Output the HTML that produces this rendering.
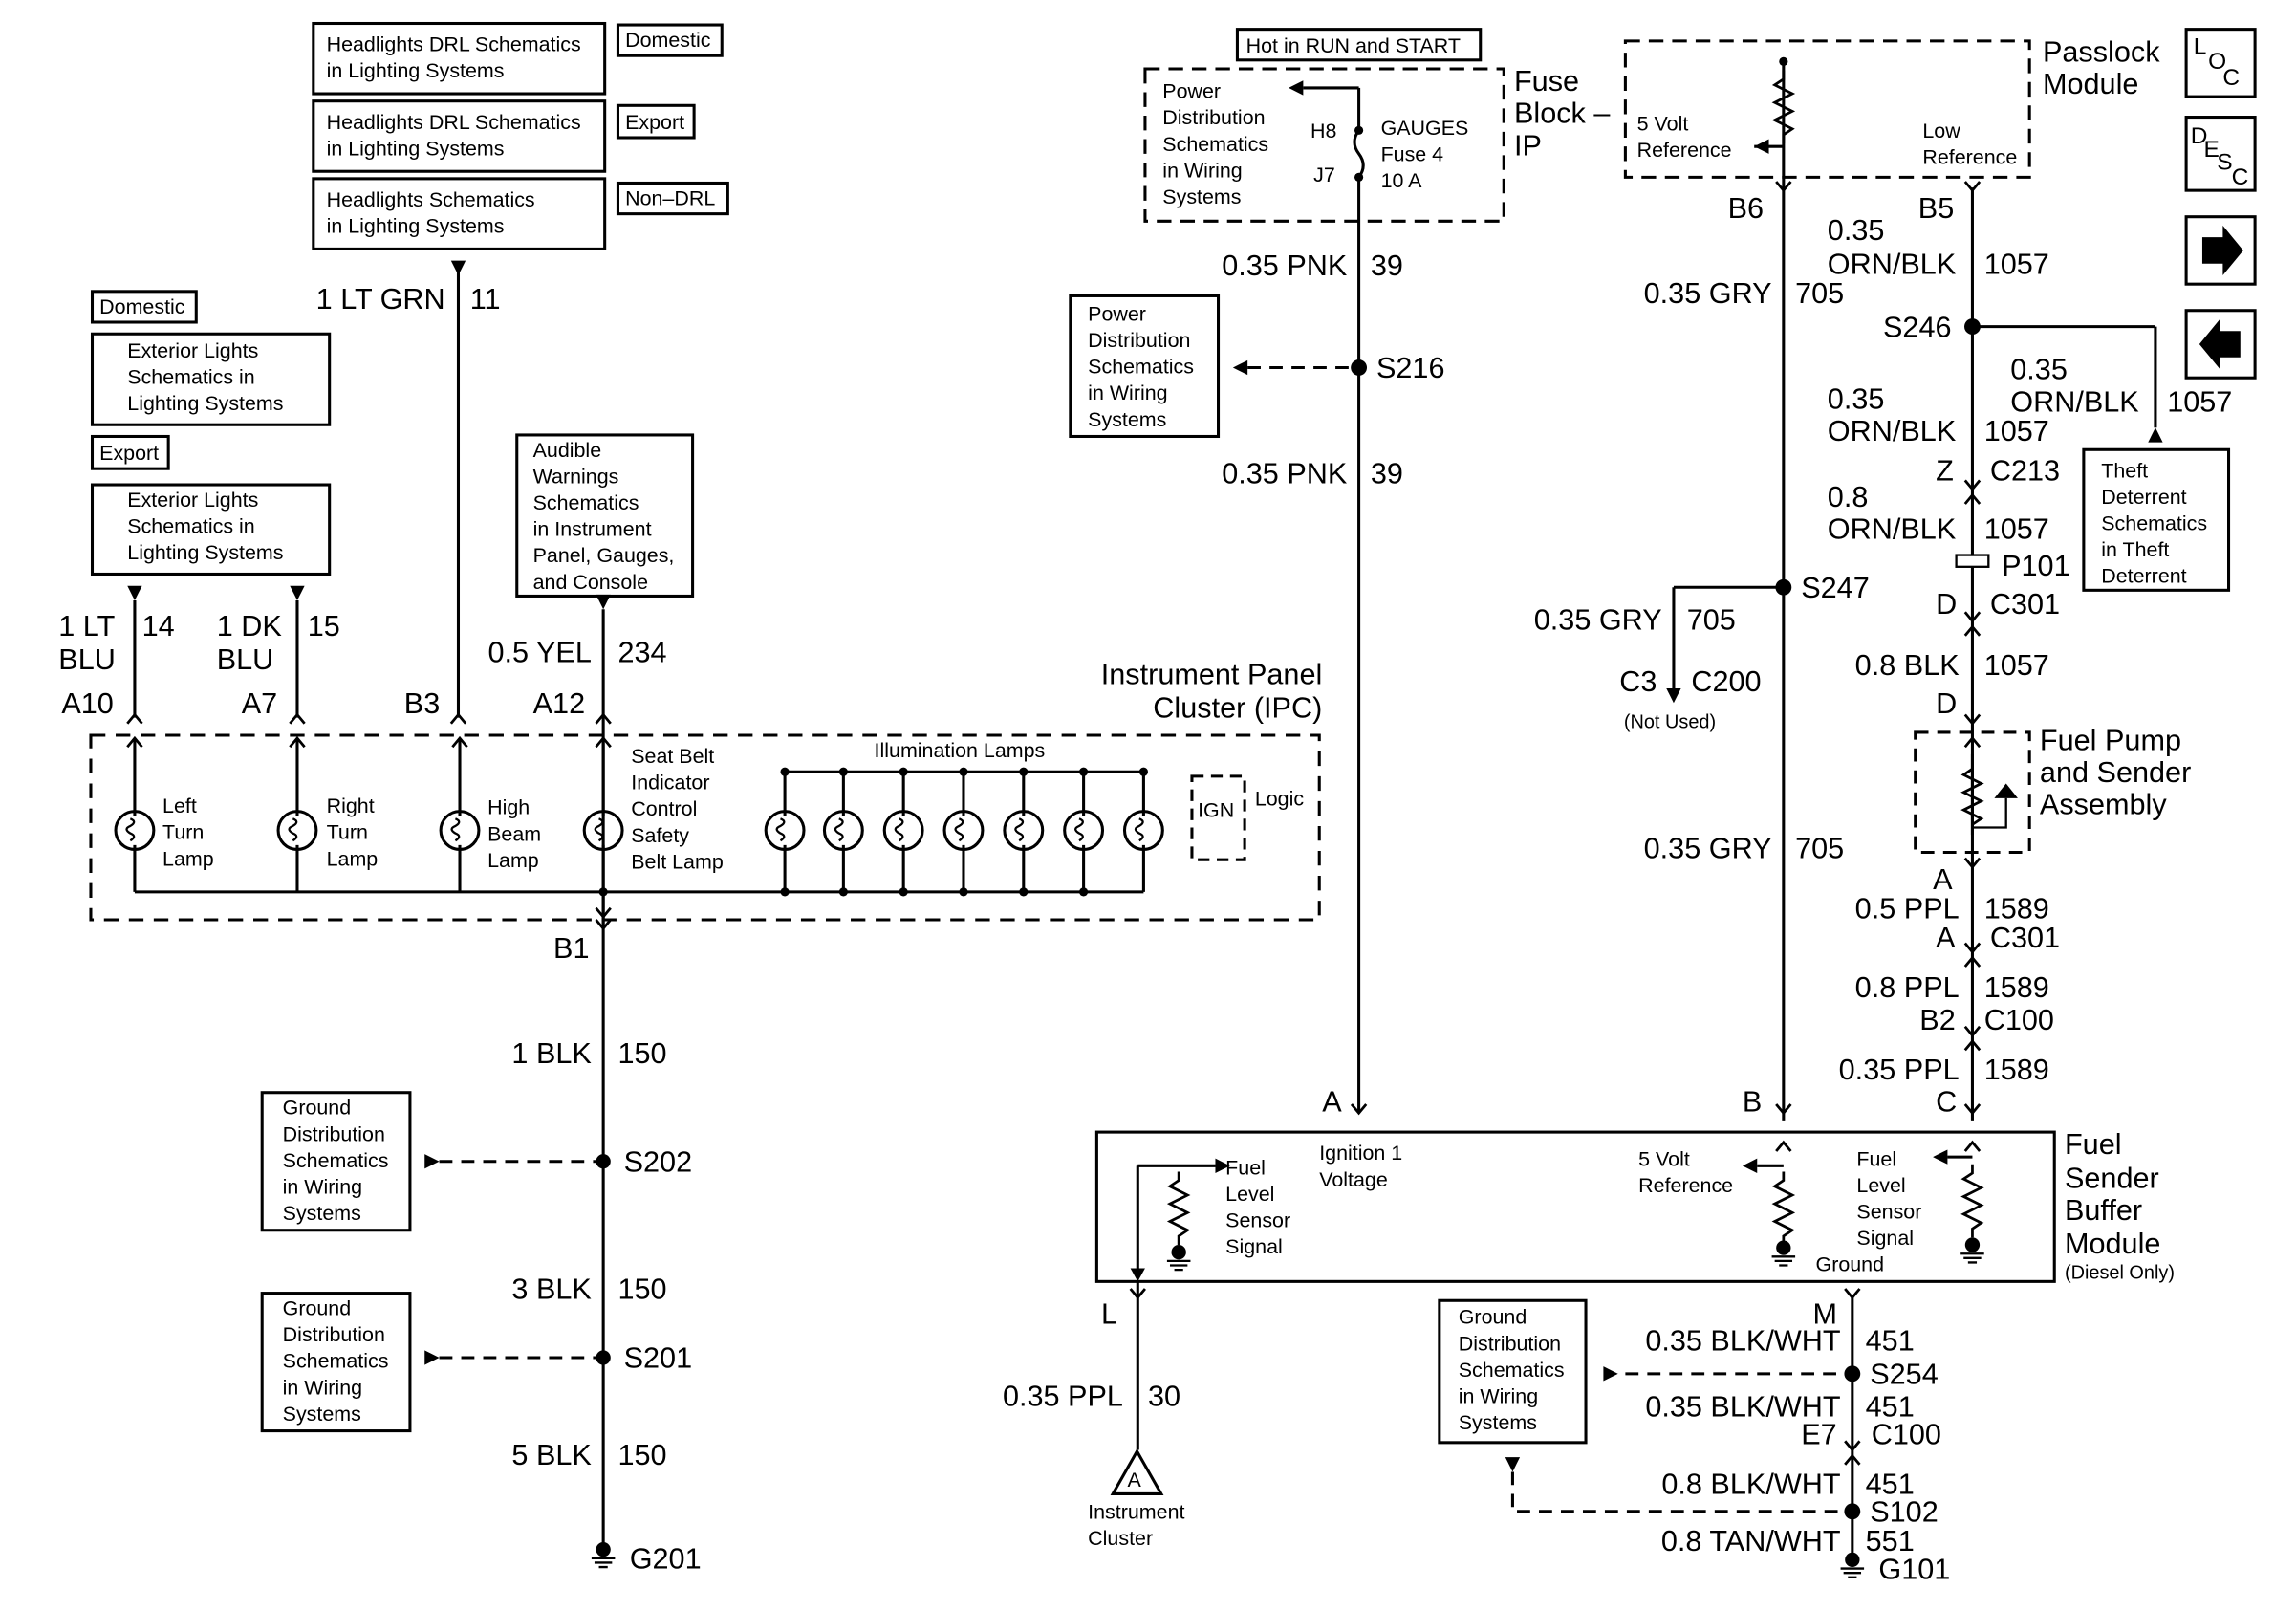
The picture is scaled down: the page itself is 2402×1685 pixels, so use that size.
<!DOCTYPE html>
<html><head><meta charset="utf-8"><style>
html,body{margin:0;padding:0;background:#fff;}
svg{display:block}
text{font-family:"Liberation Sans",Arial,sans-serif;fill:#000}
.s{font-size:14px}
.b{font-size:20px}
.t{font-size:13px}
</style></head><body>
<svg width="2402" height="1685" viewBox="0 0 1568 1100" preserveAspectRatio="none" xmlns="http://www.w3.org/2000/svg">
<defs>
<g id="lamp"><circle r="13" fill="none" stroke="#000" stroke-width="2"/><path d="M-3,-8 q5,2 0,5 q-5,2 0,5 q5,2 0,5" fill="none" stroke="#000" stroke-width="1.5"/><path d="M0,-13 v3 M0,13 v-3" stroke="#000" stroke-width="2"/></g>
<g id="chev"><polyline points="-5,4 0,-2 5,4" fill="none" stroke="#000" stroke-width="1.8"/></g>
<g id="chevd"><polyline points="-5,-4 0,2 5,-4" fill="none" stroke="#000" stroke-width="1.8"/></g>
<g id="gnd"><circle r="5" fill="#000"/><path d="M-8,6 h16 M-6,9 h12 M-3,12 h6" stroke="#000" stroke-width="1.5"/></g>
<g id="res"><polyline points="0,0 0,6 -6,10 6,16 -6,22 6,28 -6,34 6,40 0,44 0,50" fill="none" stroke="#000" stroke-width="1.8"/></g>
</defs>
<g stroke="#000" stroke-width="2" fill="none">
<rect x="214" y="16" width="199" height="48"/><rect x="422" y="17" width="71" height="21"/>
<rect x="214" y="69" width="199" height="48"/><rect x="422" y="72" width="52" height="22"/>
<rect x="214" y="122" width="199" height="48"/><rect x="422" y="125" width="75" height="21"/>
<rect x="63" y="199" width="71" height="21"/><rect x="63" y="228" width="162" height="62"/>
<rect x="63" y="298" width="52" height="22"/><rect x="63" y="331" width="162" height="61"/>
<rect x="353" y="297" width="120" height="110"/>
<line x1="313" y1="180" x2="313" y2="490"/>
<line x1="92" y1="410" x2="92" y2="490"/>
<line x1="203" y1="410" x2="203" y2="490"/>
<line x1="412" y1="416" x2="412" y2="1055"/>
<rect x="62" y="502" width="839" height="126" stroke-dasharray="10,7"/>
<line x1="92" y1="505" x2="92" y2="554"/><line x1="92" y1="580" x2="92" y2="609"/>
<line x1="203" y1="505" x2="203" y2="554"/><line x1="203" y1="580" x2="203" y2="609"/>
<line x1="314" y1="505" x2="314" y2="554"/><line x1="314" y1="580" x2="314" y2="609"/>
<line x1="412" y1="505" x2="412" y2="554"/><line x1="412" y1="580" x2="412" y2="632"/>
<line x1="92" y1="609" x2="781" y2="609"/>
<line x1="536" y1="527" x2="781" y2="527"/>
<line x1="536" y1="527" x2="536" y2="554"/><line x1="536" y1="580" x2="536" y2="609"/>
<line x1="576" y1="527" x2="576" y2="554"/><line x1="576" y1="580" x2="576" y2="609"/>
<line x1="617" y1="527" x2="617" y2="554"/><line x1="617" y1="580" x2="617" y2="609"/>
<line x1="658" y1="527" x2="658" y2="554"/><line x1="658" y1="580" x2="658" y2="609"/>
<line x1="699" y1="527" x2="699" y2="554"/><line x1="699" y1="580" x2="699" y2="609"/>
<line x1="740" y1="527" x2="740" y2="554"/><line x1="740" y1="580" x2="740" y2="609"/>
<line x1="781" y1="527" x2="781" y2="554"/><line x1="781" y1="580" x2="781" y2="609"/>
<rect x="814" y="530" width="36" height="57" stroke-dasharray="8,5"/>
<rect x="179" y="746" width="101" height="94"/><rect x="179" y="883" width="101" height="94"/>
<line x1="300" y1="793" x2="412" y2="793" stroke-dasharray="9,6"/>
<line x1="300" y1="927" x2="412" y2="927" stroke-dasharray="9,6"/>
<rect x="845" y="20" width="166" height="21"/>
<rect x="782" y="47" width="245" height="104" stroke-dasharray="10,6"/>
<line x1="928" y1="60" x2="890" y2="60"/>
<line x1="928" y1="60" x2="928" y2="89"/>
<path d="M928,89 q-6,8 0,16 q6,8 0,16"/>
<line x1="928" y1="121" x2="928" y2="760"/>
<rect x="731" y="202" width="101" height="96"/>
<line x1="852" y1="251" x2="928" y2="251" stroke-dasharray="9,6"/>
<rect x="749" y="773" width="654" height="102"/>
<line x1="777" y1="796" x2="777" y2="868"/>
<line x1="777" y1="796" x2="830" y2="796"/>
<line x1="777" y1="875" x2="777" y2="990"/>
<polygon points="760,1020 793,1020 776.5,991" />
<rect x="1110" y="28" width="276" height="93" stroke-dasharray="10,6"/>
<line x1="1218" y1="42" x2="1218" y2="765"/>
<line x1="1347" y1="128" x2="1347" y2="765"/>
<line x1="1347" y1="223" x2="1472" y2="223"/><line x1="1472" y1="223" x2="1472" y2="292"/>
<rect x="1423" y="307" width="99" height="96"/>
<line x1="1218" y1="401" x2="1143" y2="401"/><line x1="1143" y1="401" x2="1143" y2="475"/>
<rect x="1308" y="500" width="78" height="82" stroke-dasharray="9,6"/>
<line x1="1265" y1="885" x2="1265" y2="1062"/>
<rect x="983" y="888" width="100" height="97"/>
<line x1="1110" y1="938" x2="1265" y2="938" stroke-dasharray="9,6"/>
<polyline points="1033,1005 1033,1032 1265,1032" stroke-dasharray="9,6"/>
<rect x="1493" y="20" width="47" height="46"/><rect x="1493" y="80" width="47" height="50"/>
<rect x="1493" y="148" width="47" height="46"/><rect x="1493" y="212" width="47" height="46"/>
<line x1="1218" y1="100" x2="1198" y2="100"/>
<line x1="1218" y1="796" x2="1200" y2="796"/>
<line x1="1347" y1="790" x2="1330" y2="790"/>
<line x1="1347" y1="515" x2="1347" y2="570"/>
</g>
<g fill="#000">
<polygon points="308,178 318,178 313,188"/>
<polygon points="87,400 97,400 92,410"/><polygon points="198,400 208,400 203,410"/>
<polygon points="407,406 417,406 412,416"/>
<polygon points="290,788 290,798 300,793"/><polygon points="290,922 290,932 300,927"/>
<polygon points="890,55 890,65 880,60"/>
<polygon points="852,246 852,256 842,251"/>
<polygon points="1467,302 1477,302 1472,292"/>
<polygon points="1095,933 1095,943 1105,938"/>
<polygon points="1028,995 1038,995 1033,1005"/>
<polygon points="1208,95 1208,105 1198,100"/>
<polygon points="1200,791 1200,801 1190,796"/>
<polygon points="1330,785 1330,795 1320,790"/>
<polygon points="830,791 830,801 840,796"/>
<polygon points="772,866 782,866 777,875"/>
<polygon points="1138,470 1148,470 1143,480"/>
<polygon points="1504,162 1518,162 1518,154 1532,171 1518,188 1518,180 1504,180"/>
<polygon points="1530,226 1516,226 1516,218 1502,235 1516,252 1516,244 1530,244"/>
<circle cx="412" cy="793" r="5"/><circle cx="412" cy="927" r="5"/>
<circle cx="928" cy="251" r="5.5"/><circle cx="1347" cy="223" r="5.5"/>
<circle cx="1218" cy="401" r="5.5"/><circle cx="1265" cy="938" r="5.5"/><circle cx="1265" cy="1032" r="5.5"/>
<circle cx="928" cy="89" r="3"/><circle cx="928" cy="121" r="3"/><circle cx="1218" cy="42" r="3"/>
</g>
<use href="#lamp" x="92" y="567"/><use href="#lamp" x="203" y="567"/><use href="#lamp" x="314" y="567"/><use href="#lamp" x="412" y="567"/>
<use href="#lamp" x="536" y="567"/><use href="#lamp" x="576" y="567"/><use href="#lamp" x="617" y="567"/><use href="#lamp" x="658" y="567"/>
<use href="#lamp" x="699" y="567"/><use href="#lamp" x="740" y="567"/><use href="#lamp" x="781" y="567"/>
<g fill="#000"><circle cx="536" cy="527" r="3"/><circle cx="576" cy="527" r="3"/><circle cx="617" cy="527" r="3"/><circle cx="658" cy="527" r="3"/><circle cx="699" cy="527" r="3"/><circle cx="740" cy="527" r="3"/><circle cx="781" cy="527" r="3"/>
<circle cx="536" cy="609" r="3"/><circle cx="576" cy="609" r="3"/><circle cx="617" cy="609" r="3"/><circle cx="658" cy="609" r="3"/><circle cx="699" cy="609" r="3"/><circle cx="740" cy="609" r="3"/><circle cx="412" cy="609" r="3"/></g>
<use href="#chev" x="92" y="490"/><use href="#chev" x="92" y="506"/>
<use href="#chev" x="203" y="490"/><use href="#chev" x="203" y="506"/>
<use href="#chev" x="313" y="490"/><use href="#chev" x="314" y="506"/>
<use href="#chev" x="412" y="490"/><use href="#chev" x="412" y="506"/>
<use href="#chevd" x="412" y="624"/><use href="#chevd" x="412" y="632"/>
<use href="#chevd" x="928" y="758"/><use href="#chevd" x="1218" y="758"/><use href="#chevd" x="1347" y="758"/>
<use href="#chev" x="1218" y="782"/><use href="#chev" x="1347" y="782"/>
<use href="#chevd" x="1218" y="128"/><use href="#chevd" x="1347" y="128"/>
<use href="#chevd" x="1347" y="332"/><use href="#chev" x="1347" y="340"/>
<use href="#chevd" x="1347" y="422"/><use href="#chev" x="1347" y="430"/>
<use href="#chevd" x="1347" y="492"/><use href="#chev" x="1347" y="506"/>
<use href="#chevd" x="1347" y="590"/><use href="#chevd" x="1347" y="648"/><use href="#chev" x="1347" y="656"/>
<use href="#chevd" x="1347" y="705"/><use href="#chev" x="1347" y="713"/>
<use href="#chevd" x="777" y="884"/><use href="#chevd" x="1265" y="884"/>
<use href="#chevd" x="1265" y="988"/><use href="#chev" x="1265" y="996"/>
<rect x="1336" y="379" width="22" height="8" fill="#fff" stroke="#000" stroke-width="1.5"/>
<use href="#res" x="1218" y="48"/>
<use href="#res" x="805" y="800"/><use href="#gnd" x="805" y="855"/>
<use href="#res" x="1218" y="800"/><use href="#gnd" x="1218" y="852"/>
<use href="#res" x="1347" y="795"/><use href="#gnd" x="1347" y="850"/>
<use href="#gnd" x="412" y="1058"/><use href="#gnd" x="1265" y="1065"/>
<polyline points="1347,520 1347,525 1341,529 1353,535 1341,541 1353,547 1341,553 1353,559 1347,563" fill="none" stroke="#000" stroke-width="1.8"/>
<polyline points="1370,545 1370,565 1347,565" fill="none" stroke="#000" stroke-width="1.5"/>
<polygon points="1362,545 1378,545 1370,535" fill="#000"/>
<g class="s">
<text x="223" y="35">Headlights DRL Schematics</text><text x="223" y="53">in Lighting Systems</text>
<text x="223" y="88">Headlights DRL Schematics</text><text x="223" y="106">in Lighting Systems</text>
<text x="223" y="141">Headlights Schematics</text><text x="223" y="159">in Lighting Systems</text>
<text x="427" y="32">Domestic</text><text x="427" y="88">Export</text><text x="427" y="140">Non–DRL</text>
<text x="68" y="214">Domestic</text><text x="68" y="314">Export</text>
<text x="87" y="244">Exterior Lights</text><text x="87" y="262">Schematics in</text><text x="87" y="280">Lighting Systems</text>
<text x="87" y="346">Exterior Lights</text><text x="87" y="364">Schematics in</text><text x="87" y="382">Lighting Systems</text>
<text x="364" y="312">Audible</text><text x="364" y="330">Warnings</text><text x="364" y="348">Schematics</text><text x="364" y="366">in Instrument</text><text x="364" y="384">Panel, Gauges,</text><text x="364" y="402">and Console</text>
<text x="111" y="555">Left</text><text x="111" y="573">Turn</text><text x="111" y="591">Lamp</text>
<text x="223" y="555">Right</text><text x="223" y="573">Turn</text><text x="223" y="591">Lamp</text>
<text x="333" y="556">High</text><text x="333" y="574">Beam</text><text x="333" y="592">Lamp</text>
<text x="431" y="521">Seat Belt</text><text x="431" y="539">Indicator</text><text x="431" y="557">Control</text><text x="431" y="575">Safety</text><text x="431" y="593">Belt Lamp</text>
<text x="597" y="517">Illumination Lamps</text>
<text x="818" y="558">IGN</text><text x="857" y="550">Logic</text>
<text x="193" y="761">Ground</text><text x="193" y="779">Distribution</text><text x="193" y="797">Schematics</text><text x="193" y="815">in Wiring</text><text x="193" y="833">Systems</text>
<text x="193" y="898">Ground</text><text x="193" y="916">Distribution</text><text x="193" y="934">Schematics</text><text x="193" y="952">in Wiring</text><text x="193" y="970">Systems</text>
<text x="851" y="36">Hot in RUN and START</text>
<text x="794" y="67">Power</text><text x="794" y="85">Distribution</text><text x="794" y="103">Schematics</text><text x="794" y="121">in Wiring</text><text x="794" y="139">Systems</text>
<text x="895" y="94">H8</text><text x="897" y="124">J7</text>
<text x="943" y="92">GAUGES</text><text x="943" y="110">Fuse 4</text><text x="943" y="128">10 A</text>
<text x="743" y="219">Power</text><text x="743" y="237">Distribution</text><text x="743" y="255">Schematics</text><text x="743" y="273">in Wiring</text><text x="743" y="291">Systems</text>
<text x="1118" y="89">5 Volt</text><text x="1118" y="107">Reference</text>
<text x="1313" y="94">Low</text><text x="1313" y="112">Reference</text>
<text x="1435" y="326">Theft</text><text x="1435" y="344">Deterrent</text><text x="1435" y="362">Schematics</text><text x="1435" y="380">in Theft</text><text x="1435" y="398">Deterrent</text>
<text x="837" y="802">Fuel</text><text x="837" y="820">Level</text><text x="837" y="838">Sensor</text><text x="837" y="856">Signal</text>
<text x="901" y="792">Ignition 1</text><text x="901" y="810">Voltage</text>
<text x="1119" y="796">5 Volt</text><text x="1119" y="814">Reference</text>
<text x="1268" y="796">Fuel</text><text x="1268" y="814">Level</text><text x="1268" y="832">Sensor</text><text x="1268" y="850">Signal</text>
<text x="1240" y="868">Ground</text>
<text x="743" y="1037">Instrument</text><text x="743" y="1055">Cluster</text>
<text x="996" y="904">Ground</text><text x="996" y="922">Distribution</text><text x="996" y="940">Schematics</text><text x="996" y="958">in Wiring</text><text x="996" y="976">Systems</text>
<text x="770" y="1015">A</text>
</g>
<g class="t"><text x="1109" y="497">(Not Used)</text><text x="1410" y="873">(Diesel Only)</text></g>
<g class="b">
<text x="304" y="211" text-anchor="end">1 LT GRN</text><text x="321" y="211">11</text>
<text x="40" y="434">1 LT</text><text x="40" y="457">BLU</text><text x="97" y="434">14</text>
<text x="148" y="434">1 DK</text><text x="148" y="457">BLU</text><text x="210" y="434">15</text>
<text x="404" y="452" text-anchor="end">0.5 YEL</text><text x="422" y="452">234</text>
<text x="42" y="487">A10</text><text x="165" y="487">A7</text><text x="276" y="487">B3</text><text x="364" y="487">A12</text>
<text x="903" y="467" text-anchor="end">Instrument Panel</text><text x="903" y="490" text-anchor="end">Cluster (IPC)</text>
<text x="378" y="654">B1</text>
<text x="404" y="726" text-anchor="end">1 BLK</text><text x="422" y="726">150</text>
<text x="426" y="800">S202</text><text x="426" y="934">S201</text>
<text x="404" y="887" text-anchor="end">3 BLK</text><text x="422" y="887">150</text>
<text x="404" y="1000" text-anchor="end">5 BLK</text><text x="422" y="1000">150</text>
<text x="430" y="1071">G201</text>
<text x="1034" y="62">Fuse</text><text x="1034" y="84">Block –</text><text x="1034" y="106">IP</text>
<text x="920" y="188" text-anchor="end">0.35 PNK</text><text x="936" y="188">39</text>
<text x="940" y="258">S216</text>
<text x="920" y="330" text-anchor="end">0.35 PNK</text><text x="936" y="330">39</text>
<text x="903" y="759">A</text><text x="1190" y="759">B</text><text x="1322" y="759">C</text>
<text x="1410" y="788">Fuel</text><text x="1410" y="811">Sender</text><text x="1410" y="833">Buffer</text><text x="1410" y="856">Module</text>
<text x="752" y="904">L</text>
<text x="767" y="960" text-anchor="end">0.35 PPL</text><text x="784" y="960">30</text>
<text x="1395" y="42">Passlock</text><text x="1395" y="64">Module</text>
<text x="1180" y="149">B6</text><text x="1310" y="149">B5</text>
<text x="1210" y="207" text-anchor="end">0.35 GRY</text><text x="1226" y="207">705</text>
<text x="1248" y="164">0.35</text><text x="1248" y="187">ORN/BLK</text><text x="1355" y="187">1057</text>
<text x="1286" y="230">S246</text>
<text x="1373" y="259">0.35</text><text x="1373" y="281">ORN/BLK</text><text x="1480" y="281">1057</text>
<text x="1248" y="279">0.35</text><text x="1248" y="301">ORN/BLK</text><text x="1355" y="301">1057</text>
<text x="1322" y="328">Z</text><text x="1359" y="328">C213</text>
<text x="1248" y="346">0.8</text><text x="1248" y="368">ORN/BLK</text><text x="1355" y="368">1057</text>
<text x="1367" y="393">P101</text>
<text x="1322" y="419">D</text><text x="1359" y="419">C301</text>
<text x="1230" y="408">S247</text>
<text x="1135" y="430" text-anchor="end">0.35 GRY</text><text x="1152" y="430">705</text>
<text x="1106" y="472">C3</text><text x="1155" y="472">C200</text>
<text x="1338" y="461" text-anchor="end">0.8 BLK</text><text x="1355" y="461">1057</text>
<text x="1322" y="487">D</text>
<text x="1393" y="512">Fuel Pump</text><text x="1393" y="534">and Sender</text><text x="1393" y="556">Assembly</text>
<text x="1210" y="586" text-anchor="end">0.35 GRY</text><text x="1226" y="586">705</text>
<text x="1320" y="607">A</text>
<text x="1338" y="627" text-anchor="end">0.5 PPL</text><text x="1355" y="627">1589</text>
<text x="1322" y="647">A</text><text x="1359" y="647">C301</text>
<text x="1338" y="681" text-anchor="end">0.8 PPL</text><text x="1355" y="681">1589</text>
<text x="1311" y="703">B2</text><text x="1355" y="703">C100</text>
<text x="1338" y="737" text-anchor="end">0.35 PPL</text><text x="1355" y="737">1589</text>
<text x="1238" y="904">M</text>
<text x="1257" y="922" text-anchor="end">0.35 BLK/WHT</text><text x="1274" y="922">451</text>
<text x="1277" y="945">S254</text>
<text x="1257" y="967" text-anchor="end">0.35 BLK/WHT</text><text x="1274" y="967">451</text>
<text x="1230" y="986">E7</text><text x="1278" y="986">C100</text>
<text x="1257" y="1020" text-anchor="end">0.8 BLK/WHT</text><text x="1274" y="1020">451</text>
<text x="1277" y="1039">S102</text>
<text x="1257" y="1059" text-anchor="end">0.8 TAN/WHT</text><text x="1274" y="1059">551</text>
<text x="1283" y="1078">G101</text>
</g>
<g style="font-size:16px">
<text x="1498" y="37">L</text><text x="1508" y="47">O</text><text x="1518" y="58">C</text>
<text x="1496" y="98">D</text><text x="1505" y="107">E</text><text x="1514" y="116">S</text><text x="1524" y="126">C</text>
</g>
</svg>
</body></html>
